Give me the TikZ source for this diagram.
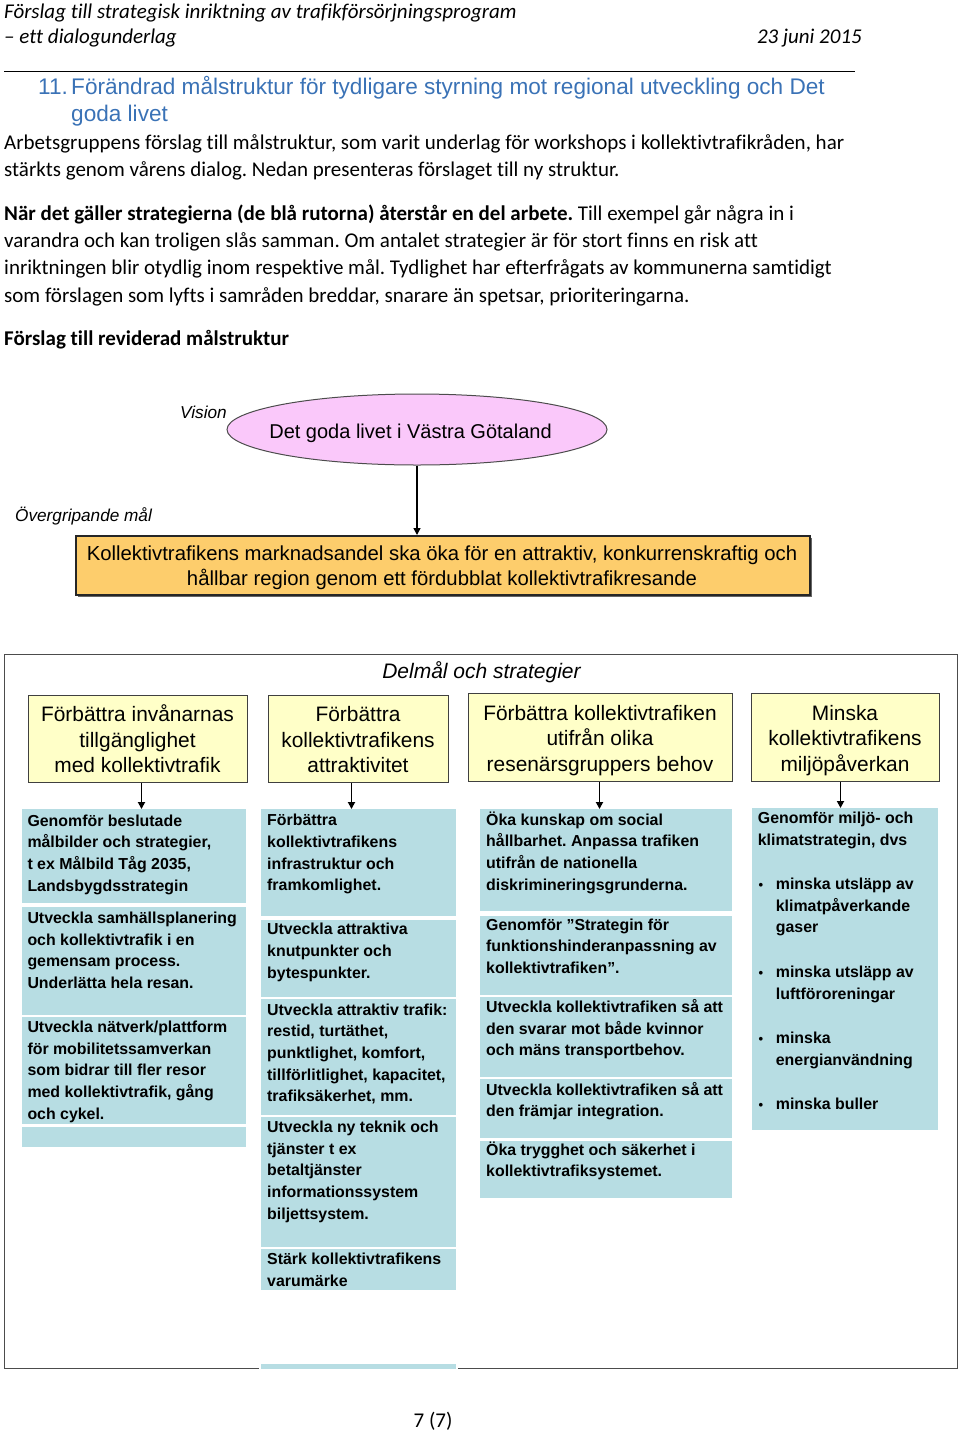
\documentclass[tikz,border=0pt]{standalone}
\usepackage{fontspec}
\setmainfont{Carlito}[Ligatures={NoCommon}]
\newfontfamily\arialf{Liberation Sans}
\usetikzlibrary{arrows.meta,shapes.geometric,calc}
\frenchspacing
\definecolor{headblue}{RGB}{58,114,182}
\definecolor{pinkfill}{RGB}{250,200,250}
\definecolor{orangefill}{RGB}{253,205,108}
\definecolor{boxyellow}{RGB}{255,255,200}
\definecolor{boxblue}{RGB}{183,221,227}
\tikzset{
  bodytext/.style={anchor=base west, inner sep=0, font=\fontsize{21}{27.4}\selectfont},
  hdr/.style={anchor=base west, inner sep=0, font=\fontsize{21}{25}\selectfont\itshape},
  headtext/.style={anchor=base west, inner sep=0, text=headblue, font=\arialf\fontsize{22.6}{27.4}\selectfont},
  bluebox/.style={anchor=north west, fill=boxblue, draw=none, inner sep=0},
  bluetext/.style={anchor=base west, inner sep=0, font=\arialf\bfseries\fontsize{15.9}{21.7}\selectfont},
  ybox/.style={anchor=north west, fill=boxyellow, draw=black!75, line width=1pt, inner sep=0},
  ytext/.style={anchor=base, inner sep=0, font=\arialf\fontsize{20.9}{25.5}\selectfont},
  itlabel/.style={anchor=base west, inner sep=0, font=\arialf\itshape\fontsize{17.2}{20}\selectfont},
  arr/.style={-{Triangle[length=7pt,width=7pt]}, line width=1.8pt},
  arrthin/.style={-{Triangle[length=7pt,width=7pt]}, line width=1.4pt},
}
\begin{document}
\begin{tikzpicture}[x=1pt,y=-1pt]
\useasboundingbox (0,0) rectangle (960,1433);
% ---------- page header ----------
\node[hdr] (h1) at (4,18) {Förslag till strategisk inriktning av trafikförsörjningsprogram};
\node[hdr] (h2) at (4,43) {– ett dialogunderlag};
\node[hdr, anchor=base east] (hdate) at (862,43) {23 juni 2015};
\draw[line width=1pt] (4,71) -- (855,71);
% ---------- heading ----------
\node[headtext] (hnum) at (38,94.3) {11.};
\node[headtext] (htitle) at (71,94.3) {\parbox[t]{900pt}{Förändrad målstruktur för tydligare styrning mot regional utveckling och Det\\ goda livet}};
% ---------- body ----------
\node[bodytext] (p1) at (4,149.5) {\parbox[t]{950pt}{Arbetsgruppens förslag till målstruktur, som varit underlag för workshops i kollektivtrafikråden, har\\ stärkts genom vårens dialog. Nedan presenteras förslaget till ny struktur.}};
\node[bodytext] (p2) at (4,220) {\parbox[t]{950pt}{\textbf{När det gäller strategierna (de blå rutorna) återstår en del arbete.} Till exempel går några in i\\ varandra och kan troligen slås samman. Om antalet strategier är för stort finns en risk att\\ inriktningen blir otydlig inom respektive mål. Tydlighet har efterfrågats av kommunerna samtidigt\\ som förslagen som lyfts i samråden breddar, snarare än spetsar, prioriteringarna.}};
\node[bodytext] (p3) at (4,345) {\textbf{Förslag till reviderad målstruktur}};
% ---------- vision ----------
\node[ellipse, draw=black!70, fill=pinkfill, line width=1pt, minimum width=380pt, minimum height=71pt, inner sep=0] (vision) at (417,429.5) {};
\node[anchor=base, inner sep=0, font=\arialf\fontsize{20}{24}\selectfont] (visiont) at (410.5,438) {Det goda livet i Västra Götaland};
\node[itlabel] (vlabel) at (180,418) {Vision};
\node[itlabel] (glabel) at (15,521) {Övergripande mål};
% ---------- overall goal ----------
\fill[black!60] (77.5,537.5) rectangle (811.5,596.5);
\node[anchor=north west, fill=orangefill, draw=black!85, line width=1.8pt, minimum width=734pt, minimum height=59pt, inner sep=0] (goal) at (75,535) {};
\node[anchor=base, inner sep=0, font=\arialf\fontsize{20.3}{25}\selectfont] (goalt) at (442,560) {\parbox[t]{760pt}{\centering Kollektivtrafikens marknadsandel ska öka för en attraktiv, konkurrenskraftig och\\ hållbar region genom ett fördubblat kollektivtrafikresande}};
\draw[arrthin] (vision.south) -- (vision.south |- goal.north);
% ---------- frame ----------
\node[anchor=north west, draw=black!70, line width=1.3pt, minimum width=953pt, minimum height=714pt, inner sep=0] (frame) at (4,654) {};
\node[anchor=base, inner sep=0, font=\arialf\itshape\fontsize{21}{24}\selectfont] (dtitle) at (481.5,678.5) {Delmål och strategier};
% ---------- sub-goals ----------
\node[ybox, minimum width=219pt, minimum height=87pt] (y1) at (28,695) {};
\node[ybox, minimum width=180pt, minimum height=87pt] (y2) at (268,695) {};
\node[ybox, minimum width=264pt, minimum height=88pt] (y3) at (468,693) {};
\node[ybox, minimum width=188pt, minimum height=88pt] (y4) at (751,693) {};
\node[ytext] (y1t) at (137.5,721.7) {\parbox[t]{260pt}{\centering Förbättra invånarnas\\ tillgänglighet\\ med kollektivtrafik}};
\node[ytext] (y2t) at (358,721.7) {\parbox[t]{260pt}{\centering Förbättra\\ kollektivtrafikens\\ attraktivitet}};
\node[ytext] (y3t) at (600,720) {\parbox[t]{280pt}{\centering Förbättra kollektivtrafiken\\ utifrån olika\\ resenärsgruppers behov}};
\node[ytext] (y4t) at (845,720) {\parbox[t]{260pt}{\centering Minska\\ kollektivtrafikens\\ miljöpåverkan}};
% ---------- column 1 ----------
\node[bluebox, minimum width=224pt, minimum height=94pt] (b1a) at (22,809) {};
\node[bluebox, minimum width=224pt, minimum height=108pt] (b1b) at (22,907) {};
\node[bluebox, minimum width=224pt, minimum height=107pt] (b1c) at (22,1017) {};
\node[bluebox, minimum width=224pt, minimum height=20pt] (b1d) at (22,1127) {};
\node[bluetext] (b1at) at (27.3,826) {\parbox[t]{260pt}{Genomför beslutade\\ målbilder och strategier,\\ t ex Målbild Tåg 2035,\\ Landsbygdsstrategin}};
\node[bluetext] (b1bt) at (27.3,923.3) {\parbox[t]{260pt}{Utveckla samhällsplanering\\ och kollektivtrafik i en\\ gemensam process.\\ Underlätta hela resan.}};
\node[bluetext] (b1ct) at (27.3,1032.3) {\parbox[t]{260pt}{Utveckla nätverk/plattform\\ för mobilitetssamverkan\\ som bidrar till fler resor\\ med kollektivtrafik, gång\\ och cykel.}};
% ---------- column 2 ----------
\node[bluebox, minimum width=195pt, minimum height=107pt] (b2a) at (261,809) {};
\node[bluebox, minimum width=195pt, minimum height=77pt] (b2b) at (261,920) {};
\node[bluebox, minimum width=195pt, minimum height=116pt] (b2c) at (261,999) {};
\node[bluebox, minimum width=195pt, minimum height=130pt] (b2d) at (261,1117) {};
\node[bluebox, minimum width=195pt, minimum height=41pt] (b2e) at (261,1249) {};
\fill[white] (259,1362) rectangle (458,1371);
\node[bluebox, minimum width=195pt, minimum height=5pt] (b2f) at (261,1364) {};
\node[bluetext] (b2at) at (267,825.7) {\parbox[t]{240pt}{Förbättra\\ kollektivtrafikens\\ infrastruktur och\\ framkomlighet.}};
\node[bluetext] (b2bt) at (267,934.7) {\parbox[t]{240pt}{Utveckla attraktiva\\ knutpunkter och\\ bytespunkter.}};
\node[bluetext] (b2ct) at (267,1015) {\parbox[t]{240pt}{Utveckla attraktiv trafik:\\ restid, turtäthet,\\ punktlighet, komfort,\\ tillförlitlighet, kapacitet,\\ trafiksäkerhet, mm.}};
\node[bluetext] (b2dt) at (267,1132.3) {\parbox[t]{240pt}{Utveckla ny teknik och\\ tjänster t ex\\ betaltjänster\\ informationssystem\\ biljettsystem.}};
\node[bluetext] (b2et) at (267,1264.3) {\parbox[t]{240pt}{Stärk kollektivtrafikens\\ varumärke}};
% ---------- column 3 ----------
\node[bluebox, minimum width=252pt, minimum height=102pt] (b3a) at (480,809) {};
\node[bluebox, minimum width=252pt, minimum height=79pt] (b3b) at (480,916) {};
\node[bluebox, minimum width=252pt, minimum height=80pt] (b3c) at (480,997) {};
\node[bluebox, minimum width=252pt, minimum height=59pt] (b3d) at (480,1079) {};
\node[bluebox, minimum width=252pt, minimum height=57pt] (b3e) at (480,1141) {};
\node[bluetext] (b3at) at (486,825) {\parbox[t]{280pt}{Öka kunskap om social\\ hållbarhet. Anpassa trafiken\\ utifrån de nationella\\ diskrimineringsgrunderna.}};
\node[bluetext] (b3bt) at (486,930) {\parbox[t]{280pt}{Genomför ”Strategin för\\ funktionshinderanpassning av\\ kollektivtrafiken”.}};
\node[bluetext] (b3ct) at (486,1012.3) {\parbox[t]{280pt}{Utveckla kollektivtrafiken så att\\ den svarar mot både kvinnor\\ och mäns transportbehov.}};
\node[bluetext] (b3dt) at (486,1095) {\parbox[t]{280pt}{Utveckla kollektivtrafiken så att\\ den främjar integration.}};
\node[bluetext] (b3et) at (486,1155) {\parbox[t]{280pt}{Öka trygghet och säkerhet i\\ kollektivtrafiksystemet.}};
% ---------- column 4 ----------
\node[bluebox, minimum width=186pt, minimum height=322pt] (b4) at (752,808) {};
\node[bluetext] (b4t0) at (757.7,823.3) {\parbox[t]{200pt}{Genomför miljö- och\\ klimatstrategin, dvs}};
\node[bluetext] (b4t1) at (775.7,889.3) {\parbox[t]{180pt}{minska utsläpp av\\ klimatpåverkande\\ gaser}};
\node[bluetext] (b4t2) at (775.7,977.3) {\parbox[t]{180pt}{minska utsläpp av\\ luftföroreningar}};
\node[bluetext] (b4t3) at (775.7,1043.3) {\parbox[t]{180pt}{minska\\ energianvändning}};
\node[bluetext] (b4t4) at (775.7,1109.3) {minska buller};
\foreach \yy/\nm in {889.3/bu1, 977.3/bu2, 1043.3/bu3, 1109.3/bu4}
  \node[anchor=base west, inner sep=0, font=\arialf\bfseries\fontsize{13}{15}\selectfont] (\nm) at (758.5,\yy) {•};
% ---------- arrows ----------
\draw[arr] ($(y1.south)+(3.5,0)$) -- ($(y1.south |- b1a.north)+(3.5,0)$);
\draw[arr] ($(y2.south)+(-7,0)$) -- ($(y2.south |- b2a.north)+(-7,0)$);
\draw[arr] ($(y3.south)+(-1,0)$) -- ($(y3.south |- b3a.north)+(-1,0)$);
\draw[arr] ($(y4.south)+(-5,0)$) -- ($(y4.south |- b4.north)+(-5,0)$);
% ---------- page number ----------
\node[anchor=base, inner sep=0, font=\fontsize{21}{23}\selectfont] (pnum) at (433,1427) {7 (7)};
\end{tikzpicture}
\end{document}
